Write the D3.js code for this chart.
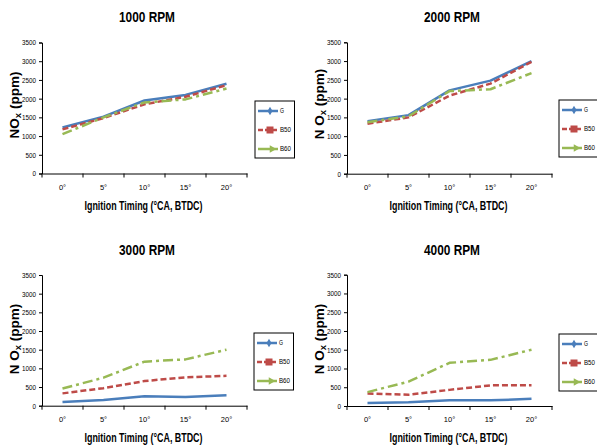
<!DOCTYPE html>
<html><head><meta charset="utf-8">
<script src="https://cdn.jsdelivr.net/npm/d3@7"></script>
<style>
body{margin:0;background:#fff;}
svg{display:block;}
text{font-family:"Liberation Sans","Arial",sans-serif;}
</style></head>
<body>
<script>
const categories = ["0°","5°","10°","15°","20°"];
const seriesNames = ["G","B50","B60"];
const yTicks = [0,500,1000,1500,2000,2500,3000,3500];
const titles = ["1000 RPM","2000 RPM","3000 RPM","4000 RPM"];
const rpm1000_G   = [1230,1520,1950,2100,2400];
const rpm1000_B50 = [1180,1480,1850,2050,2360];
const rpm1000_B60 = [1050,1500,1900,1980,2270];
const rpm2000_G   = [1400,1560,2220,2480,3000];
const rpm2000_B50 = [1330,1500,2080,2400,2980];
const rpm2000_B60 = [1370,1530,2200,2250,2680];
const rpm3000_G   = [100,150,250,230,280];
const rpm3000_B50 = [330,470,660,760,800];
const rpm3000_B60 = [460,750,1180,1240,1500];
const rpm4000_G   = [80,100,150,150,190];
const rpm4000_B50 = [330,300,430,550,550];
const rpm4000_B60 = [370,650,1150,1230,1500];

const panelsData = [
  [rpm1000_G, rpm1000_B50, rpm1000_B60],
  [rpm2000_G, rpm2000_B50, rpm2000_B60],
  [rpm3000_G, rpm3000_B50, rpm3000_B60],
  [rpm4000_G, rpm4000_B50, rpm4000_B60]
];

const colors = ["#4a7ebb","#be4b48","#98b954"];
const dashes = [null,"6,3","10,4,3,4"];

const layout = [
  {x0:42, x1:247, yT:42.5, yB:173.5, title:[147,18], ytl:[15,105], xt:188, xtitle:207, leg:[255,101], nsp:false},
  {x0:347,x1:552, yT:42.3, yB:173.7, title:[452,18], ytl:[320,104], xt:188, xtitle:207, leg:[559,100], nsp:true},
  {x0:42, x1:247, yT:275,  yB:405.7, title:[147,251], ytl:[15,339], xt:420.5, xtitle:439, leg:[254,333], nsp:true},
  {x0:347,x1:552, yT:274.7,yB:406,   title:[452,251], ytl:[320,339], xt:420.5, xtitle:439, leg:[559,334], nsp:true}
];

const svg = d3.select("body").append("svg").attr("width",597).attr("height",448);

layout.forEach((L,pi)=>{
  const g = svg.append("g");
  const x = d3.scaleBand().domain(categories).range([L.x0,L.x1]);
  const y = d3.scaleLinear().domain([0,3500]).range([L.yB,L.yT]);

  // title
  g.append("text").attr("x",L.title[0]).attr("y",L.title[1]).attr("text-anchor","middle")
    .attr("dominant-baseline","middle").attr("font-size",15).attr("font-weight","bold").attr("fill","#000")
    .attr("textLength",56).attr("lengthAdjust","spacingAndGlyphs").text(titles[pi]);

  // y axis
  const ya = g.append("g").attr("transform",`translate(${L.x0},0)`)
    .call(d3.axisLeft(y).tickValues(yTicks).tickSize(3).tickPadding(3).tickFormat(d3.format("d")));
  ya.select(".domain").attr("stroke","#000").attr("stroke-width",1);
  ya.selectAll(".tick line").attr("stroke","#000");
  ya.selectAll("text").attr("font-size",7.5).attr("fill","#000").attr("textLength",14).attr("lengthAdjust","spacingAndGlyphs");
  ya.selectAll(".tick").filter(d=>d<1000).selectAll("text").attr("textLength",d=>d===0?3.5:10.5);

  // x axis
  const xa = g.append("g").attr("transform",`translate(0,${L.yB})`)
    .call(d3.axisBottom(x).tickSize(0).tickPadding(0));
  xa.select(".domain").attr("stroke","#000").attr("stroke-width",1);
  xa.selectAll(".tick text").remove();
  const bounds = categories.map(c=>x(c)).concat([L.x1]);
  xa.selectAll("line.b").data(bounds).enter().append("line").attr("class","b")
    .attr("x1",d=>d).attr("x2",d=>d).attr("y1",0).attr("y2",4).attr("stroke","#000");
  g.selectAll("text.xl").data(categories).enter().append("text").attr("class","xl")
    .attr("x",d=>x(d)+x.bandwidth()/2).attr("y",L.xt).attr("text-anchor","middle").attr("dominant-baseline","middle")
    .attr("font-size",7.5).attr("fill","#000").text(d=>d);

  // x title
  g.append("text").attr("x",(L.x0+L.x1)/2-1).attr("y",L.xtitle).attr("text-anchor","middle").attr("dominant-baseline","middle")
    .attr("font-size",13).attr("font-weight","bold").attr("fill","#000")
    .attr("textLength",118).attr("lengthAdjust","spacingAndGlyphs").text("Ignition Timing (°CA, BTDC)");

  // y title
  const yt = g.append("text").attr("transform",`translate(${L.ytl[0]},${L.ytl[1]}) rotate(-90)`)
    .attr("text-anchor","middle").attr("dominant-baseline","middle").attr("font-size",13.5).attr("font-weight","bold")
    .attr("fill","#000");
  yt.append("tspan").text(L.nsp ? "N O" : "NO");
  yt.append("tspan").attr("font-size",9.5).attr("dy",3).text("x");
  yt.append("tspan").attr("dy",-3).text(" (ppm)");

  // lines
  const line = d3.line().x((d,i)=>x(categories[i])+x.bandwidth()/2).y(d=>y(d));
  panelsData[pi].forEach((vals,si)=>{
    g.append("path").datum(vals).attr("d",line).attr("fill","none")
      .attr("stroke",colors[si]).attr("stroke-width",2.5)
      .attr("stroke-dasharray",dashes[si]).attr("stroke-linejoin","round");
  });

  // legend
  const lg = g.append("g").attr("transform",`translate(${L.leg[0]},${L.leg[1]})`);
  lg.append("rect").attr("x",0).attr("y",0).attr("width",39.5).attr("height",57).attr("fill","#fff").attr("stroke","#000").attr("stroke-width",1);
  seriesNames.forEach((s,si)=>{
    const yy = 10 + si*19;
    lg.append("line").attr("x1",3).attr("x2",23).attr("y1",yy).attr("y2",yy)
      .attr("stroke",colors[si]).attr("stroke-width",2.5).attr("stroke-dasharray",si===1?"5,2":null);
    const cx = 15, cy = yy;
    if(si===0){
      lg.append("path").attr("d",d3.symbol().type(d3.symbolDiamond).size(22)()).attr("transform",`translate(${cx},${cy})`).attr("fill",colors[si]);
    } else if(si===1){
      lg.append("rect").attr("x",cx-3.5).attr("y",cy-3.5).attr("width",7).attr("height",7).attr("fill",colors[si]);
    } else {
      lg.append("path").attr("d",d3.symbol().type(d3.symbolTriangle).size(26)()).attr("transform",`translate(${cx+2},${cy}) rotate(90)`).attr("fill",colors[si]);
    }
    lg.append("text").attr("x",25).attr("y",yy).attr("dominant-baseline","middle").attr("font-size",7.5)
      .attr("textLength",s.length===1?4:11).attr("lengthAdjust","spacingAndGlyphs").attr("fill","#000").text(s);
  });
});
</script>
</body></html>
